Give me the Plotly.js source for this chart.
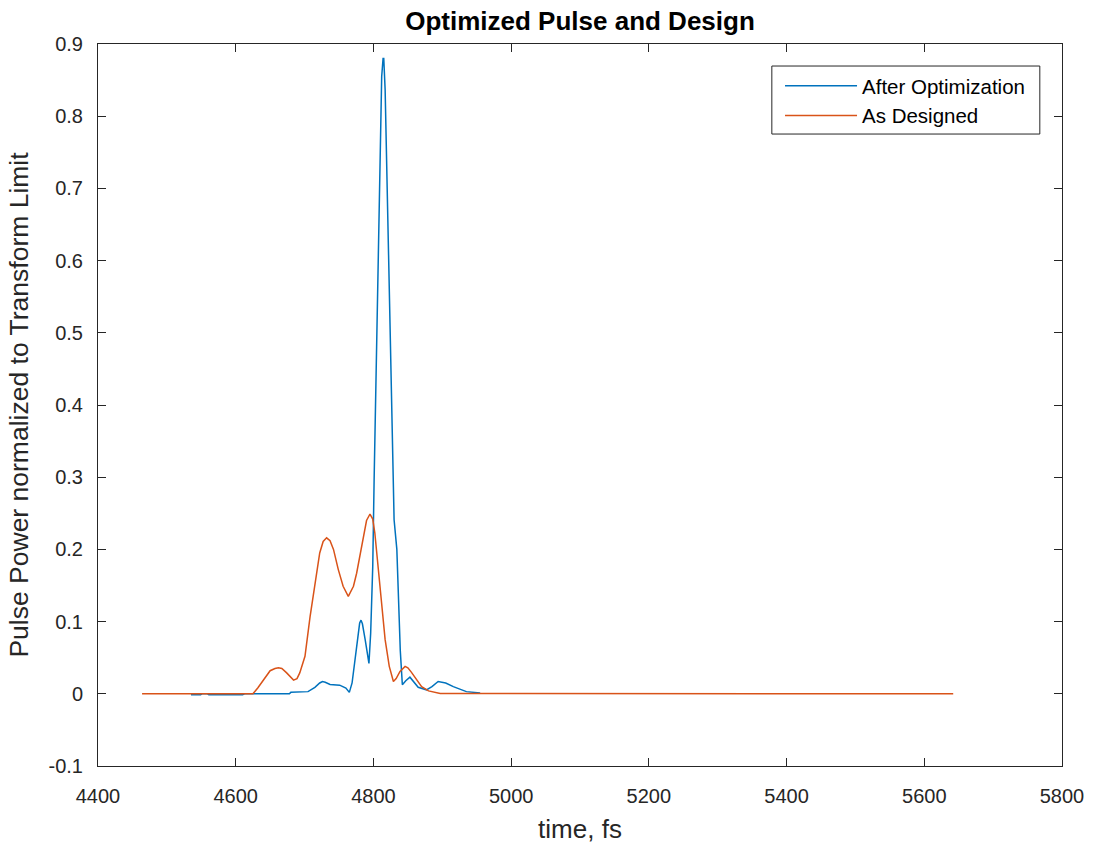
<!DOCTYPE html>
<html>
<head>
<meta charset="utf-8">
<script src="https://cdn.plot.ly/plotly-3.0.1.min.js"></script>
<style>html,body{margin:0;padding:0;background:#fff;}#chart{width:1094px;height:844px;}</style>
</head>
<body>
<div id="chart"></div>
<script>
// After Optimization (blue)
var optTime = [4535, 4549, 4551, 4559, 4561, 4610, 4613, 4678, 4680, 4705, 4715, 4722, 4726, 4730, 4737, 4751, 4760, 4765, 4769, 4773, 4778, 4780, 4782, 4784, 4788, 4793.5, 4796, 4799, 4801, 4804, 4807, 4810, 4812, 4814, 4815, 4817, 4819, 4822, 4825, 4828, 4830, 4834, 4836.5, 4839, 4842, 4847, 4853, 4859, 4865, 4877, 4885, 4894, 4905, 4916, 4935, 4955];
var optPower = [-0.0012, -0.0012, 0, 0, -0.0012, -0.0012, 0, 0, 0.002, 0.003, 0.009, 0.015, 0.017, 0.016, 0.013, 0.012, 0.008, 0.002, 0.015, 0.047, 0.085, 0.098, 0.102, 0.097, 0.075, 0.042, 0.084, 0.176, 0.296, 0.46, 0.625, 0.765, 0.855, 0.88, 0.88, 0.837, 0.737, 0.604, 0.458, 0.317, 0.241, 0.2, 0.115, 0.06, 0.0125, 0.018, 0.023, 0.016, 0.009, 0.0055, 0.01, 0.017, 0.015, 0.01, 0.003, 0.001];

// As Designed (orange)
var desTime = [4464, 4625, 4632, 4640, 4650, 4657, 4662, 4667, 4674, 4684, 4689, 4693, 4700.6, 4708, 4715, 4722, 4727, 4732, 4737, 4742, 4749, 4756, 4763.5, 4771, 4775.6, 4785, 4790, 4795, 4799, 4802, 4807, 4812, 4817, 4823, 4829, 4833, 4838.6, 4846, 4850, 4855, 4862, 4870, 4880, 4897, 5642];
var desPower = [0, 0, 0.008, 0.019, 0.032, 0.035, 0.036, 0.035, 0.029, 0.019, 0.021, 0.029, 0.052, 0.107, 0.153, 0.195, 0.211, 0.216, 0.212, 0.2, 0.172, 0.149, 0.135, 0.149, 0.167, 0.213, 0.24, 0.249, 0.242, 0.223, 0.176, 0.121, 0.075, 0.038, 0.017, 0.021, 0.031, 0.038, 0.036, 0.03, 0.02, 0.01, 0.004, 0.0005, 0];

var xTicks = [4400, 4600, 4800, 5000, 5200, 5400, 5600, 5800];
var yTicks = [-0.1, 0, 0.1, 0.2, 0.3, 0.4, 0.5, 0.6, 0.7, 0.8, 0.9];
var yTickText = ['-0.1', '0', '0.1', '0.2', '0.3', '0.4', '0.5', '0.6', '0.7', '0.8', '0.9'];

var axisColor = '#262626';
var fontFam = '"Liberation Sans", Arial, Helvetica, sans-serif';

var traces = [
  {x: optTime, y: optPower, type: 'scatter', mode: 'lines', name: 'After Optimization',
   line: {color: '#0072BD', width: 1.5}},
  {x: desTime, y: desPower, type: 'scatter', mode: 'lines', name: 'As Designed',
   line: {color: '#D95319', width: 1.5}}
];

var layout = {
  width: 1094, height: 844,
  margin: {l: 98, r: 32, t: 44, b: 78, pad: 0},
  paper_bgcolor: '#fff', plot_bgcolor: '#fff',
  font: {family: fontFam, color: axisColor, size: 20},
  title: {text: 'Optimized Pulse and Design', x: 0.5, xref: 'paper', xanchor: 'center',
          y: 0.975, yref: 'container', yanchor: 'middle',
          font: {family: fontFam, size: 26, color: '#000', weight: 'bold'}},
  xaxis: {range: [4400, 5800], tickvals: xTicks, ticktext: xTicks.map(String),
          showgrid: false, zeroline: false, showline: true, linecolor: axisColor, linewidth: 1,
          mirror: 'ticks', ticks: 'inside', ticklen: 8, tickcolor: axisColor, tickwidth: 1,
          ticklabelstandoff: 12,
          tickfont: {family: fontFam, size: 20, color: axisColor},
          title: {text: 'time, fs', standoff: 16, font: {family: fontFam, size: 26, color: axisColor}}},
  yaxis: {range: [-0.1, 0.9], tickvals: yTicks, ticktext: yTickText,
          showgrid: false, zeroline: false, showline: true, linecolor: axisColor, linewidth: 1,
          mirror: 'ticks', ticks: 'inside', ticklen: 8, tickcolor: axisColor, tickwidth: 1,
          ticklabelstandoff: 10,
          tickfont: {family: fontFam, size: 20, color: axisColor},
          title: {text: 'Pulse Power normalized to Transform Limit', standoff: 12,
                  font: {family: fontFam, size: 26.5, color: axisColor}}},
  showlegend: true,
  legend: {x: 0.7075, y: 0.9695, xanchor: 'left', yanchor: 'top', bgcolor: 'rgba(0,0,0,0)',
           borderwidth: 0, itemwidth: 72,
           font: {family: fontFam, size: 20.5, color: '#000'}, tracegroupgap: 0},
  shapes: [{type: 'rect', xref: 'paper', yref: 'paper', x0: 0.699, x1: 0.977, y0: 0.8753, y1: 0.9695,
            line: {color: axisColor, width: 1}, fillcolor: 'rgba(255,255,255,0)', layer: 'above'}]
};

Plotly.newPlot('chart', traces, layout, {displayModeBar: false, staticPlot: true});
</script>
</body>
</html>
